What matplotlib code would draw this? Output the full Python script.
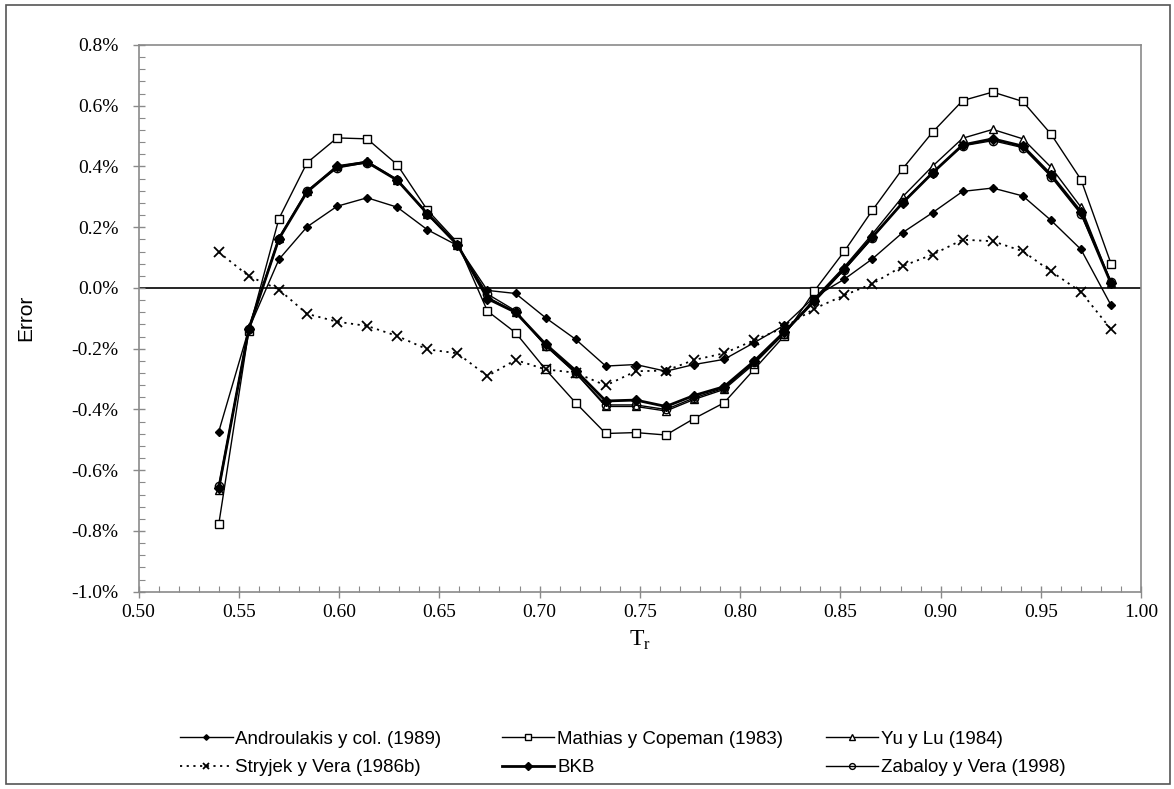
import matplotlib
matplotlib.use("Agg")
import matplotlib.pyplot as plt
from matplotlib.ticker import MultipleLocator, FuncFormatter
from matplotlib.patches import Rectangle

# reduced temperature
tr = [0.540, 0.555, 0.570, 0.584, 0.599, 0.614, 0.629, 0.644, 0.659, 0.674,
      0.688, 0.703, 0.718, 0.733, 0.748, 0.763, 0.777, 0.792, 0.807, 0.822,
      0.837, 0.852, 0.866, 0.881, 0.896, 0.911, 0.926, 0.941, 0.955, 0.970, 0.985]

# error in %
androulakis = [-0.473, -0.135, 0.094, 0.201, 0.269, 0.297, 0.266, 0.192, 0.140, -0.008,
               -0.018, -0.098, -0.169, -0.257, -0.252, -0.274, -0.252, -0.235, -0.180, -0.123,
               -0.030, 0.029, 0.096, 0.182, 0.248, 0.318, 0.329, 0.303, 0.223, 0.127, -0.057]
mathias = [-0.778, -0.140, 0.228, 0.412, 0.494, 0.491, 0.406, 0.257, 0.150, -0.076,
           -0.147, -0.268, -0.378, -0.479, -0.476, -0.484, -0.430, -0.378, -0.268, -0.158,
           -0.010, 0.121, 0.256, 0.392, 0.513, 0.617, 0.645, 0.614, 0.507, 0.357, 0.080]
yu_lu = [-0.665, -0.130, 0.165, 0.320, 0.400, 0.417, 0.357, 0.245, 0.143, -0.030,
         -0.080, -0.190, -0.280, -0.390, -0.390, -0.405, -0.367, -0.334, -0.250, -0.150,
         -0.035, 0.070, 0.178, 0.300, 0.401, 0.493, 0.522, 0.491, 0.398, 0.266, 0.018]
stryjek = [0.118, 0.039, -0.005, -0.085, -0.111, -0.125, -0.158, -0.202, -0.215, -0.290,
           -0.237, -0.268, -0.279, -0.321, -0.274, -0.272, -0.237, -0.215, -0.172, -0.130,
           -0.068, -0.024, 0.014, 0.072, 0.110, 0.159, 0.154, 0.121, 0.055, -0.013, -0.136]
bkb = [-0.660, -0.135, 0.162, 0.316, 0.400, 0.414, 0.355, 0.245, 0.143, -0.035,
       -0.080, -0.185, -0.272, -0.372, -0.369, -0.390, -0.354, -0.325, -0.241, -0.145,
       -0.043, 0.064, 0.168, 0.280, 0.379, 0.471, 0.491, 0.467, 0.373, 0.250, 0.015]
zabaloy = [-0.652, -0.135, 0.160, 0.318, 0.395, 0.413, 0.355, 0.243, 0.140, -0.020,
           -0.075, -0.190, -0.280, -0.385, -0.385, -0.400, -0.362, -0.330, -0.245, -0.150,
           -0.040, 0.060, 0.165, 0.282, 0.380, 0.468, 0.485, 0.462, 0.367, 0.243, 0.020]

fig = plt.figure(figsize=(11.74, 7.89), dpi=100)
ax = fig.add_axes([0.118, 0.250, 0.854, 0.693])

h_and, = ax.plot(tr, androulakis, color="black", lw=1.0, marker="D", ms=4,
                 mfc="black", mec="black", label="Androulakis y col. (1989)")
h_mat, = ax.plot(tr, mathias, color="black", lw=1.0, marker="s", ms=6,
                 mfc="white", mec="black", mew=1.0, label="Mathias y Copeman (1983)")
h_yu, = ax.plot(tr, yu_lu, color="black", lw=1.0, marker="^", ms=5.5,
                mfc="white", mec="black", mew=1.0, label="Yu y Lu (1984)")
h_str, = ax.plot(tr, stryjek, color="black", lw=1.3, ls=(0, (1.2, 2.5)), marker="x", ms=6.5,
                 mew=1.3, label="Stryjek y Vera (1986b)")
h_bkb, = ax.plot(tr, bkb, color="black", lw=2.0, marker="D", ms=5.5,
                 mfc="black", mec="black", label="BKB")
h_zab, = ax.plot(tr, zabaloy, color="black", lw=1.0, marker="o", ms=6,
                 mfc="none", mec="black", mew=1.0, label="Zabaloy y Vera (1998)")

ax.axhline(0, color="black", lw=1.2, zorder=1)

ax.set_xlim(0.50, 1.00)
ax.set_ylim(-1.0, 0.8)
ax.xaxis.set_major_locator(MultipleLocator(0.05))
ax.xaxis.set_minor_locator(MultipleLocator(0.01))
ax.yaxis.set_major_locator(MultipleLocator(0.2))
ax.yaxis.set_minor_locator(MultipleLocator(0.04))
ax.xaxis.set_major_formatter(FuncFormatter(lambda v, p: f"{v:.2f}"))
ax.yaxis.set_major_formatter(FuncFormatter(lambda v, p: f"{v:.1f}%"))

for s in ax.spines.values():
    s.set_color("#8a8a8a")
    s.set_linewidth(1.2)
ax.tick_params(which="major", direction="inout", length=9, width=1.0, color="#8a8a8a",
               labelsize=14, pad=4)
ax.tick_params(which="minor", direction="in", length=4, width=0.8, color="#8a8a8a")
ax.tick_params(axis="y", which="major", pad=10)
for lab in ax.get_xticklabels() + ax.get_yticklabels():
    lab.set_fontfamily("Liberation Serif")

ax.set_ylabel("Error", fontsize=15, family="Liberation Sans", labelpad=26)
ax.set_xlabel(r"T$_\mathregular{r}$", fontsize=17, family="Liberation Serif", labelpad=6)

# legend: three columns of equal width, filled row by row
columns = [(h_and, h_str), (h_mat, h_bkb), (h_yu, h_zab)]
col_x = [0.147, 0.421, 0.697]
for hs, x0 in zip(columns, col_x):
    leg = fig.legend(handles=list(hs), labels=[h.get_label() for h in hs],
                     loc="center left", bbox_to_anchor=(x0, 0.045), frameon=False,
                     prop={"family": "Liberation Sans", "size": 13.5},
                     handlelength=2.8, handletextpad=0.15, borderaxespad=0,
                     labelspacing=0.6, markerscale=0.7)

fig.patches.append(Rectangle((0.005, 0.006), 0.992, 0.988, transform=fig.transFigure,
                             fill=False, edgecolor="#555555", lw=1.2))

fig.savefig("out.png", dpi=100)
